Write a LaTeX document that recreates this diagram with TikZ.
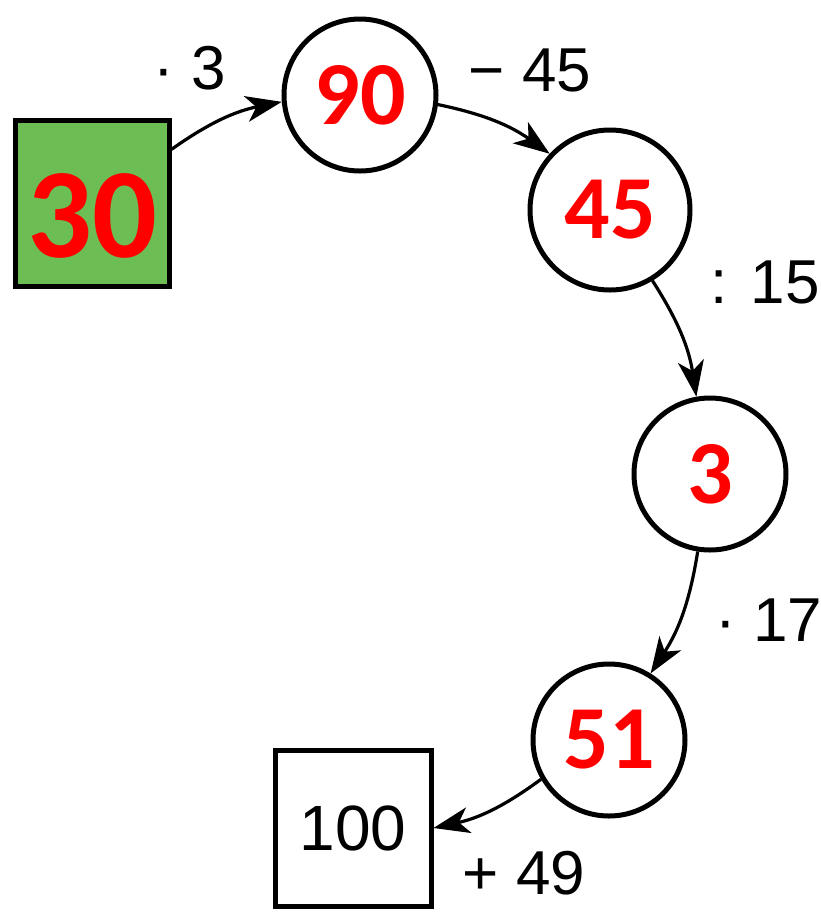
\documentclass[tikz,border=0pt]{standalone}
\usepackage{fontspec}
\setmainfont{Liberation Sans}
\newfontfamily\redfont{Carlito}
\usetikzlibrary{arrows.meta}
\definecolor{boxgreen}{RGB}{108,190,84}

\begin{document}
\begin{tikzpicture}[x=0.5pt,y=0.5pt,
	numcircle/.style={draw,circle,line width=2.5pt,minimum size=76pt,inner sep=0pt},
	numbox/.style={draw,rectangle,line width=2.5pt,inner sep=0pt},
	result/.style={text=red,font=\redfont\bfseries\fontsize{45}{45}\selectfont},
	oplabel/.style={font=\fontsize{31}{31}\selectfont},
	flow/.style={line width=1.6pt,-{Stealth[length=18pt,width=13pt,inset=5pt]},bend left=12}]

	\useasboundingbox (0,0) rectangle (821,-918);

	\node[numbox,fill=boxgreen,minimum width=77pt,minimum height=83pt,text=red,font=\redfont\bfseries\fontsize{64}{64}\selectfont] (start) at (92,-203) {\raisebox{-27pt}[0pt][0pt]{30}};
	\node[numcircle,result] (c90) at (360,-95) {90};
	\node[numcircle,result,minimum size=80pt] (c45) at (610,-210) {45};
	\node[numcircle,result] (c3) at (710,-474) {3};
	\node[numcircle,result] (c51) at (609,-740) {51};
	\node[numbox,minimum width=78pt,minimum height=78pt,font=\fontsize{32}{32}\selectfont] (end) at (353,-828) {100};

	\draw[flow] (start.34) to (c90.185);
	\draw[flow] (c90.-7) to (c45.137);
	\draw[flow] (c45.-59) to (c3.100);
	\draw[flow] (c3.-99) to (c51.58);
	\draw[flow] (c51.210) to (end.east);

	\node[oplabel] (op3) at (190,-68) {· 3};
	\node[oplabel] (op45) at (530,-70) {− 45};
	\node[oplabel] (op15) at (765,-282) {: 15};
	\node[oplabel] (op17) at (769,-620) {· 17};
	\node[oplabel] (op49) at (524,-873) {+ 49};

\end{tikzpicture}
\end{document}
